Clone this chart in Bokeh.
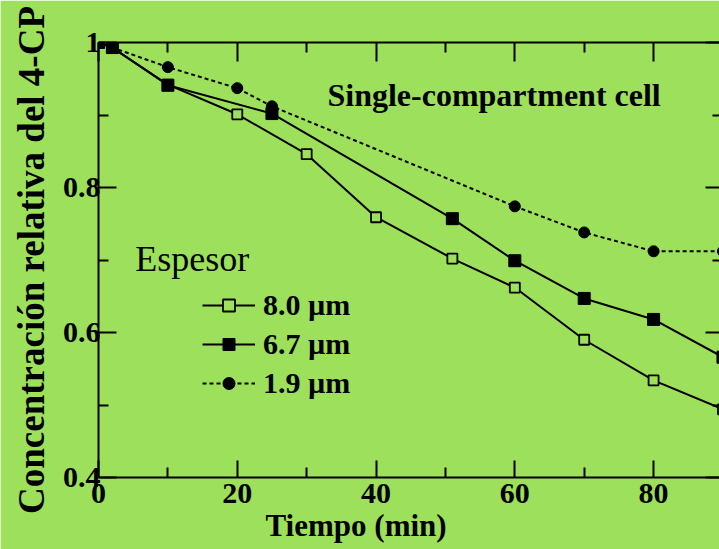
from bokeh.plotting import figure
from bokeh.models import (Range1d, LinearAxis, FixedTicker, PrintfTickFormatter,
                          Legend, LegendItem, Label, Title)
from bokeh.embed import file_html
from bokeh.resources import INLINE

# ---- data ----
time_80 = [0, 2, 10, 20, 30, 40, 51, 60, 70, 80, 90]
conc_80 = [1.0, 0.993, 0.942, 0.901, 0.846, 0.759, 0.702, 0.662, 0.590, 0.534, 0.494]
time_67 = [0, 2, 10, 25, 51, 60, 70, 80, 90]
conc_67 = [1.0, 0.993, 0.941, 0.902, 0.757, 0.699, 0.647, 0.618, 0.566]
time_19 = [0, 2, 10, 20, 25, 60, 70, 80, 90]
conc_19 = [1.0, 0.993, 0.966, 0.937, 0.912, 0.774, 0.738, 0.712, 0.712]
series_labels = ["8.0 \u00b5m", "6.7 \u00b5m", "1.9 \u00b5m"]

x_major = [0, 20, 40, 60, 80]
x_minor = [10, 30, 50, 70, 90]
y_major = [0.4, 0.6, 0.8, 1.0]
y_minor = [0.5, 0.7, 0.9]

BG = "#9de05b"
FONT = "Liberation Serif"

p = figure(width=719, height=549, output_backend="svg", toolbar_location=None,
           x_range=Range1d(0, 89.5), y_range=Range1d(0.4, 1.0),
           min_border_left=98, min_border_right=0, min_border_top=42,
           min_border_bottom=72)
p.background_fill_color = BG
p.border_fill_color = BG
p.outline_line_color = None
p.xgrid.visible = False
p.ygrid.visible = False

def style_axis(ax, ticks, minor, maj_len, min_len):
    ax.ticker = FixedTicker(ticks=ticks, minor_ticks=minor)
    ax.axis_line_width = 2
    ax.axis_line_color = "black"
    ax.major_tick_line_width = 2
    ax.minor_tick_line_width = 2
    ax.major_tick_line_color = "black"
    ax.minor_tick_line_color = "black"
    ax.major_tick_in = maj_len
    ax.major_tick_out = 0
    ax.minor_tick_in = min_len
    ax.minor_tick_out = 0
    ax.major_label_text_font = FONT
    ax.major_label_text_font_style = "bold"
    ax.major_label_text_font_size = "30px"
    ax.major_label_text_color = "black"
    ax.formatter = PrintfTickFormatter(format="%g")

xa = p.xaxis[0]
style_axis(xa, x_major, x_minor, 17, 10)
xa.major_label_standoff = 6

ya = p.yaxis[0]
style_axis(ya, y_major, y_minor, 18, 10)
ya.major_label_standoff = -2
ya.axis_label = "Concentraci\u00f3n relativa del 4-CP"
ya.axis_label_text_font = FONT
ya.axis_label_text_font_style = "bold"
ya.axis_label_text_font_size = "37px"
ya.axis_label_text_color = "black"
ya.axis_label_standoff = 8

top = LinearAxis()
style_axis(top, x_major, x_minor, 19, 10)
top.major_label_text_font_size = "0px"
top.major_label_text_color = None
top.major_label_standoff = 0
p.add_layout(top, "above")

right = LinearAxis()
style_axis(right, y_major, y_minor, 14, 7)
right.axis_line_color = None
right.major_label_text_font_size = "0px"
right.major_label_text_color = None
right.major_label_standoff = 0
p.add_layout(right, "right")

xlabel = Title(text="Tiempo (min)", align="left", offset=167, standoff=0,
               vertical_align="bottom",
               text_font=FONT, text_font_size="31px", text_font_style="bold",
               text_color="black")
p.add_layout(xlabel, "below")

# ---- series ----
l80 = p.line(time_80, conc_80, line_color="black", line_width=2)
s80 = p.scatter(time_80, conc_80, marker="square", size=10, line_color="black",
                line_width=1.8, fill_color=BG)
l67 = p.line(time_67, conc_67, line_color="black", line_width=2)
s67 = p.scatter(time_67, conc_67, marker="square", size=12, line_color="black",
                fill_color="black")
l19 = p.line(time_19, conc_19, line_color="black", line_width=2, line_dash="4 3")
s19 = p.scatter(time_19, conc_19, marker="circle", size=11, line_color="black",
                fill_color="black")

legend = Legend(items=[LegendItem(label=series_labels[0], renderers=[l80, s80]),
                       LegendItem(label=series_labels[1], renderers=[l67, s67]),
                       LegendItem(label=series_labels[2], renderers=[l19, s19])],
                location=(104, 77), padding=0, margin=0, spacing=5,
                glyph_width=53, glyph_height=30, label_height=30, label_standoff=8,
                label_text_font=FONT, label_text_font_style="bold",
                label_text_font_size="30px", label_text_color="black",
                background_fill_alpha=0, border_line_alpha=0)
p.add_layout(legend)

p.add_layout(Label(x=33.0, y=0.928, text="Single-compartment cell", text_font=FONT,
                   text_font_style="bold", text_font_size="32px", text_color="black",
                   text_baseline="alphabetic"))
p.add_layout(Label(x=5.3, y=0.701, text="Espesor", text_font=FONT,
                   text_font_style="normal", text_font_size="36px", text_color="black",
                   text_baseline="alphabetic"))

open("out.html", "w").write(file_html(p, INLINE))
